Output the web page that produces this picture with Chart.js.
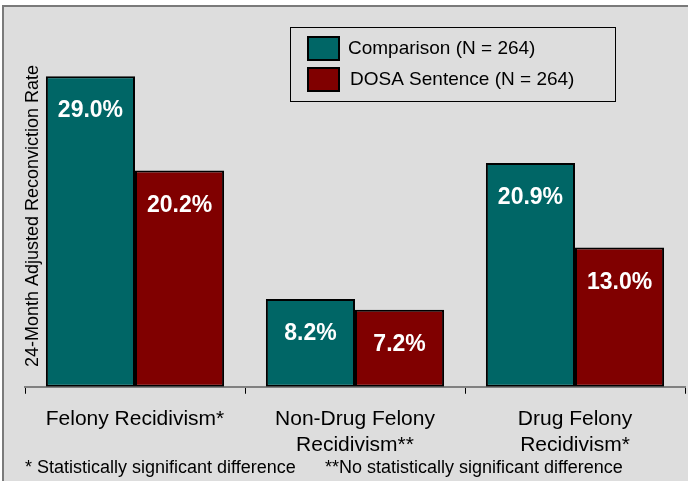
<!DOCTYPE html>
<html>
<head>
<meta charset="utf-8">
<script src="https://cdn.jsdelivr.net/npm/chart.js@4"></script>
<style>
html,body{margin:0;padding:0;background:#fff;}
#wrap{width:688px;height:481px;}
</style>
</head>
<body>
<div id="wrap"><canvas id="c" width="688" height="481"></canvas></div>
<script>
const categories = [["Felony Recidivism*"], ["Non-Drug Felony", "Recidivism**"], ["Drug Felony", "Recidivism*"]];
const comparisonValues = [29.0, 8.2, 20.9];
const dosaValues = [20.2, 7.2, 13.0];
const seriesNames = ["Comparison (N = 264)", "DOSA Sentence (N = 264)"];
const seriesColors = ["#006666", "#800000"];
const yAxisTitle = "24-Month Adjusted Reconviction Rate";
const footnotes = ["* Statistically significant difference", "**No statistically significant difference"];
const yMax = 32;

const FONT = "Arial, 'Liberation Sans', sans-serif";

const backgroundPlugin = {
  id: 'bg',
  beforeDraw(chart) {
    const ctx = chart.ctx;
    ctx.save();
    ctx.fillStyle = '#ffffff';
    ctx.fillRect(0, 0, chart.width, chart.height);
    ctx.fillStyle = '#dddddd';
    ctx.fillRect(3, 6, chart.width - 3, chart.height - 6);
    ctx.strokeStyle = '#7a7a7a';
    ctx.lineWidth = 2;
    ctx.beginPath();
    ctx.moveTo(3, chart.height);
    ctx.lineTo(3, 6);
    ctx.lineTo(chart.width, 6);
    ctx.stroke();
    ctx.restore();
  }
};

const decorPlugin = {
  id: 'decor',
  afterDatasetsDraw(chart) {
    const ctx = chart.ctx;
    ctx.save();
    // value labels inside bars
    ctx.fillStyle = '#ffffff';
    ctx.font = "bold 23px " + FONT;
    ctx.textAlign = 'center';
    ctx.textBaseline = 'middle';
    chart.data.datasets.forEach((ds, i) => {
      const meta = chart.getDatasetMeta(i);
      meta.data.forEach((bar, j) => {
        ctx.fillText(ds.data[j].toFixed(1) + '%', bar.x, bar.y + 35);
      });
    });
    // y axis title
    ctx.fillStyle = '#000';
    ctx.font = "18px " + FONT;
    ctx.translate(33, 216);
    ctx.rotate(-Math.PI / 2);
    ctx.fillText(yAxisTitle, 0, 0);
    ctx.restore();

    // legend
    ctx.save();
    ctx.strokeStyle = '#000';
    ctx.lineWidth = 1;
    ctx.strokeRect(290.5, 27.5, 325, 74);
    ctx.font = "19px " + FONT;
    ctx.textAlign = 'left';
    ctx.textBaseline = 'middle';
    chart.data.datasets.forEach((ds, i) => {
      const y = 37 + i * 31;
      ctx.fillStyle = ds.backgroundColor;
      ctx.fillRect(308, y, 31, 23);
      ctx.lineWidth = 2;
      ctx.strokeRect(308, y, 31, 23);
      ctx.fillStyle = '#000';
      ctx.fillText(ds.label, 348 + i * 2, y + 12);
    });
    ctx.restore();

    // footnotes
    ctx.save();
    ctx.fillStyle = '#000';
    ctx.font = "18px " + FONT;
    ctx.textAlign = 'left';
    ctx.textBaseline = 'middle';
    ctx.fillText(footnotes[0], 25, 468);
    ctx.fillText(footnotes[1], 325, 468);
    ctx.restore();
  }
};

new Chart(document.getElementById('c'), {
  type: 'bar',
  data: {
    labels: categories,
    datasets: [
      { label: seriesNames[0], data: comparisonValues, backgroundColor: seriesColors[0], borderColor: '#000', borderWidth: 2, borderSkipped: false },
      { label: seriesNames[1], data: dosaValues, backgroundColor: seriesColors[1], borderColor: '#000', borderWidth: 2, borderSkipped: false }
    ]
  },
  options: {
    responsive: false,
    animation: false,
    devicePixelRatio: 1,
    layout: { padding: { left: 25, right: 3, top: 44, bottom: 10 } },
    plugins: { legend: { display: false }, title: { display: false }, tooltip: { enabled: false } },
    datasets: { bar: { categoryPercentage: 0.81, barPercentage: 1.0 } },
    scales: {
      x: {
        grid: { display: true, drawOnChartArea: false, drawTicks: true, tickLength: 7, color: '#000', offset: true },
        border: { display: true, color: '#808080', width: 2 },
        ticks: { color: '#000', font: { family: FONT, size: 21, lineHeight: 1.22 }, padding: 13, maxRotation: 0, autoSkip: false }
      },
      y: {
        display: false,
        min: 0,
        max: yMax
      }
    }
  },
  plugins: [backgroundPlugin, decorPlugin]
});
</script>
</body>
</html>
